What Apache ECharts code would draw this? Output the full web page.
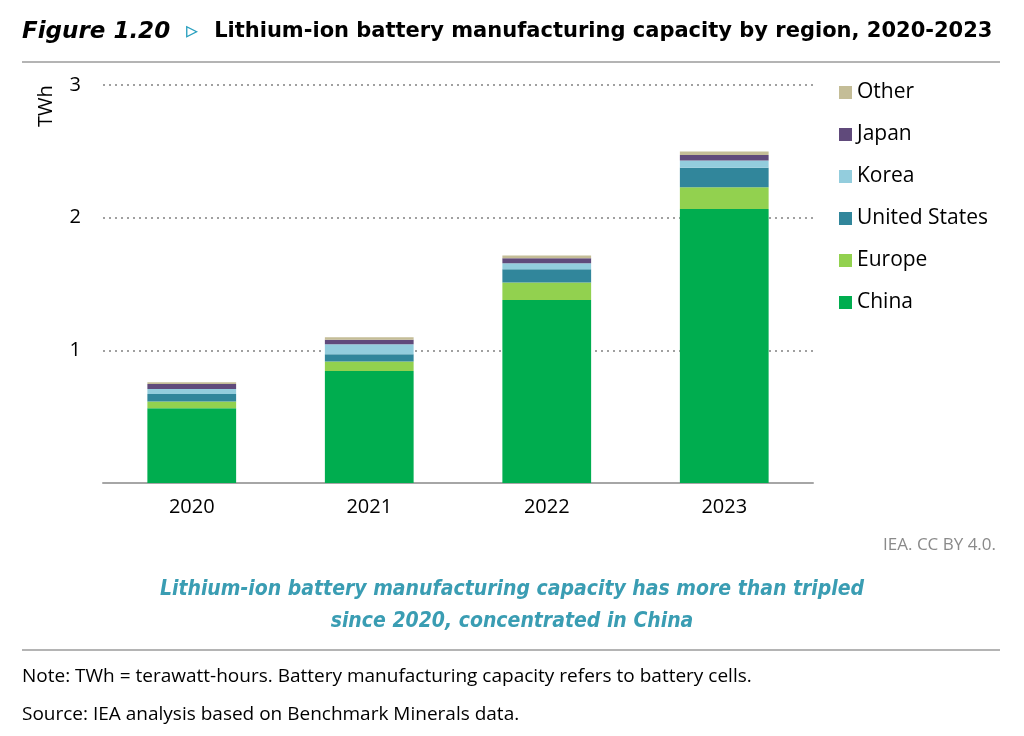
<!DOCTYPE html>
<html><head><meta charset="utf-8">
<script src="https://cdn.jsdelivr.net/npm/echarts@6/dist/echarts.min.js"></script>
<style>html,body{margin:0;padding:0;background:#fff}#c{width:1024px;height:736px}</style>
</head><body><div id="c"></div>
<script>
const years = ['2020', '2021', '2022', '2023'];
const china = [0.564, 0.845, 1.379, 2.065];
const europe = [0.050, 0.070, 0.133, 0.164];
const unitedStates = [0.056, 0.056, 0.100, 0.148];
const korea = [0.038, 0.075, 0.045, 0.053];
const japan = [0.038, 0.033, 0.038, 0.043];
const other = [0.014, 0.020, 0.020, 0.025];
const yTicks = [0, 1, 2, 3];

const seriesDefs = [
  { name: 'China', data: china, color: '#00ad4f' },
  { name: 'Europe', data: europe, color: '#92d14f' },
  { name: 'United States', data: unitedStates, color: '#31869b' },
  { name: 'Korea', data: korea, color: '#93cddd' },
  { name: 'Japan', data: japan, color: '#604a7b' },
  { name: 'Other', data: other, color: '#c4bd97' }
];

const font = '"Open Sans", "Noto Sans", sans-serif';
const chart = echarts.init(document.getElementById('c'), null, { renderer: 'canvas' });
chart.setOption({
  animation: false,
  backgroundColor: '#fff',
  title: [
    { text: '{a|Figure 1.20}{b| ▹ }{c|Lithium-ion battery manufacturing capacity by region, 2020-2023}',
      left: 17, top: 15,
      textStyle: { rich: {
        a: { fontFamily: '"DejaVu Sans", sans-serif', fontWeight: 'bold', fontStyle: 'italic', fontSize: 23, color: '#000' },
        b: { fontFamily: '"DejaVu Sans", sans-serif', fontSize: 24, color: '#2aa0bf', width: 44, align: 'center' },
        c: { fontFamily: '"DejaVu Sans", sans-serif', fontWeight: 'bold', fontSize: 21, color: '#000' }
      } } },
    { text: 'IEA. CC BY 4.0.', right: 23, top: 532,
      textStyle: { fontFamily: font, fontWeight: 'normal', fontSize: 17, color: '#8a8a8a' } },
    { text: 'Lithium-ion battery manufacturing capacity has more than tripled\nsince 2020, concentrated in China',
      left: 'center', top: 569,
      textStyle: { fontFamily: '"DejaVu Sans Condensed", "DejaVu Sans", sans-serif', fontWeight: 'bold', fontStyle: 'italic', fontSize: 21, lineHeight: 32, color: '#3a9db3' } },
    { text: 'Note: TWh = terawatt-hours. Battery manufacturing capacity refers to battery cells.',
      left: 17, top: 662,
      textStyle: { fontFamily: font, fontWeight: 'normal', fontSize: 19, color: '#000' } },
    { text: 'Source: IEA analysis based on Benchmark Minerals data.',
      left: 17, top: 700,
      textStyle: { fontFamily: font, fontWeight: 'normal', fontSize: 19, color: '#000' } }
  ],
  graphic: [
    { type: 'line', shape: { x1: 22, y1: 62, x2: 1000, y2: 62 }, style: { stroke: '#b4b4b4', lineWidth: 2 } },
    { type: 'line', shape: { x1: 22, y1: 650, x2: 1000, y2: 650 }, style: { stroke: '#b4b4b4', lineWidth: 2 } },
    { type: 'text', x: 36, y: 127, rotation: Math.PI / 2,
      style: { text: 'TWh', font: '20px "Open Sans", "Noto Sans", sans-serif', fill: '#000' } }
  ],
  legend: {
    orient: 'vertical', left: 834, top: 77,
    data: ['Other', 'Japan', 'Korea', 'United States', 'Europe', 'China'],
    itemWidth: 13, itemHeight: 13, itemGap: 21,
    icon: 'rect',
    textStyle: { fontFamily: font, fontSize: 21, color: '#000', lineHeight: 20 }
  },
  grid: { left: 103, right: 211, top: 85, bottom: 253, containLabel: false },
  xAxis: {
    type: 'category', data: years,
    axisLine: { lineStyle: { color: '#a6a6a6', width: 2 } },
    axisTick: { show: false },
    axisLabel: { fontFamily: font, fontSize: 20, color: '#000', margin: 14 }
  },
  yAxis: {
    type: 'value', min: yTicks[0], max: yTicks[yTicks.length - 1], interval: 1,
    axisLine: { show: false }, axisTick: { show: false },
    axisLabel: { fontFamily: font, fontSize: 20, color: '#000', margin: 22, showMinLabel: false,
      formatter: v => (v === 0 ? '' : String(v)) },
    splitLine: { lineStyle: { color: '#a0a0a0', width: 2, type: [2, 4] } }
  },
  series: seriesDefs.map(s => ({
    name: s.name, type: 'bar', stack: 'total', data: s.data,
    barWidth: '50%', itemStyle: { color: s.color },
    emphasis: { disabled: true }
  }))
});
</script></body></html>
